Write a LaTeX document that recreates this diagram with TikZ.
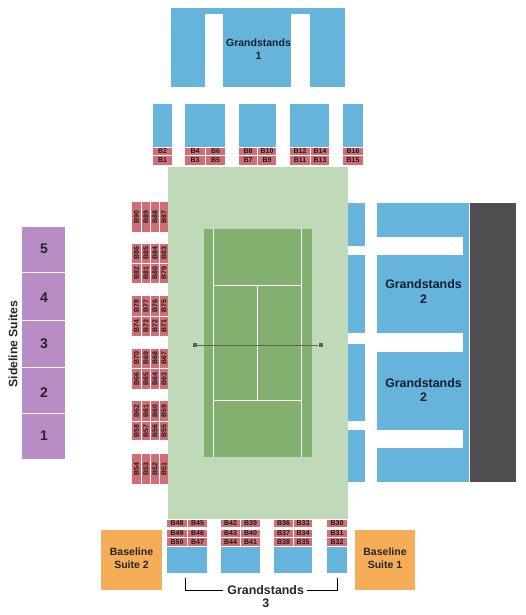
\documentclass[tikz,border=0pt]{standalone}
\usepackage{fontspec}
\setmainfont{Liberation Sans}
\usetikzlibrary{positioning}
\definecolor{colorStand}{HTML}{66B3DC}
\definecolor{colorSeat}{HTML}{D16D75}
\definecolor{colorApron}{HTML}{C0D9B8}
\definecolor{colorCourt}{HTML}{83B06E}
\definecolor{colorSuite}{HTML}{B88CC4}
\definecolor{colorBase}{HTML}{F5AD58}
\definecolor{colorWall}{HTML}{4F4D50}
\definecolor{colorNet}{HTML}{56625C}
\definecolor{colorInk}{HTML}{10202E}
\def\colorStand{colorStand}
\def\colorSeat{colorSeat}
\def\colorWall{colorWall}
\tikzset{
  standlabel/.style={font=\bfseries\fontsize{10.5}{13}\selectfont,text=colorInk,align=center,inner sep=0pt},
  bigstand/.style={standlabel,font=\bfseries\fontsize{12.4}{14.5}\selectfont},
  baselabel/.style={font=\bfseries\fontsize{10.5}{13}\selectfont,text=black!85,align=center,inner sep=0pt},
  seatlabel/.style={font=\bfseries\fontsize{7}{7}\selectfont,text=black!90,inner sep=0pt},
  suitelabel/.style={font=\bfseries\fontsize{14}{14}\selectfont,text=black!85,inner sep=0pt},
  netpost/.style={fill=colorNet,minimum size=4pt,inner sep=0pt}
}

\begin{document}
\begin{tikzpicture}[x=1pt,y=-1pt]
\useasboundingbox (0,0) rectangle (525,615);

% Grandstands 1
\fill[\colorStand] (171,8) rectangle (345,87);
\fill[white] (205,14) rectangle (223,87);
\fill[white] (291,14) rectangle (310,87);
\node[standlabel] (gsOne) at (258.5,49) {Grandstands\\1};

% Blocs au-dessus des sieges
\foreach \xa/\xb in {153/172,185/225,239/276,290/329,343/363}
  \fill[\colorStand] (\xa,104) rectangle (\xb,147);

% Sieges du haut
\foreach \xa/\xb/\numa/\numb in {153/172/2/1,185/205/4/3,206/225/6/5,239/257/8/7,258/276/10/9,
    290/310/12/11,311/329/14/13,343/363/16/15}{
  \fill[\colorSeat] (\xa,148) rectangle (\xb,155);
  \fill[\colorSeat] (\xa,156) rectangle (\xb,165);
  \node[seatlabel] (b\numa) at ({(\xa+\xb)/2},151.5) {B\numa};
  \node[seatlabel] (b\numb) at ({(\xa+\xb)/2},160.5) {B\numb};
}

% Le terrain
\fill[colorApron] (168,167) rectangle (348,519);
\fill[colorCourt] (204,229) rectangle (312,457);
\draw[white,line width=0.9pt] (213.5,229) -- (213.5,457);
\draw[white,line width=0.9pt] (301.5,229) -- (301.5,457);
\draw[white,line width=0.9pt] (213.5,285) -- (301.5,285);
\draw[white,line width=0.9pt] (213.5,400) -- (301.5,400);
\draw[white,line width=0.9pt] (257.7,285) -- (257.7,400);

% Le filet
\node[netpost] (netLeft) at (194.5,345) {};
\node[netpost] (netRight) at (320.5,345) {};
\draw[colorNet,line width=0.9pt] (netLeft) -- (netRight);

% Sieges de gauche
\foreach \ya/\yb/\first in {202/232/90,244/263/86,264/283/82,296/316/78,317/336/74,
    349/368/70,369/389/66,401/421/62,422/440/58,454/484/54}{
  \foreach \xa/\xb [count=\i from 0] in {132/141,142/150,151/159,160/168}{
    \pgfmathtruncatemacro{\num}{\first-\i}
    \fill[\colorSeat] (\xa,\ya) rectangle (\xb,\yb);
    \node[seatlabel,rotate=90] (b\num) at ({(\xa+\xb)/2},{(\ya+\yb)/2}) {B\num};
  }
}

% Sieges du bas
\foreach \xa/\xb/\numa/\numb/\numc in {167/187/48/49/50,188/207/45/46/47,221/240/42/43/44,241/260/39/40/41,
    274/293/36/37/38,294/312/33/34/35,327/347/30/31/32}{
  \fill[\colorSeat] (\xa,520) rectangle (\xb,527);
  \fill[\colorSeat] (\xa,530) rectangle (\xb,537);
  \fill[\colorSeat] (\xa,538) rectangle (\xb,546);
  \node[seatlabel] (b\numa) at ({(\xa+\xb)/2},523.5) {B\numa};
  \node[seatlabel] (b\numb) at ({(\xa+\xb)/2},533.5) {B\numb};
  \node[seatlabel] (b\numc) at ({(\xa+\xb)/2},542) {B\numc};
}

% Grandstands 3
\foreach \xa/\xb in {167/207,221/260,274/312,327/347}
  \fill[\colorStand] (\xa,547) rectangle (\xb,573);
\node[bigstand,text=black!85] (gsThree) at (265.7,590) {Grandstands};
\node[bigstand,text=black!85] (gsThreeNum) at (265.7,603.5) {3};
\coordinate (brLeft) at (185,578);
\coordinate (brRight) at (337,578);
\draw[black,line width=0.8pt] (brLeft) |- ([xshift=-4pt]gsThree.west);
\draw[black,line width=0.8pt] (brRight) |- ([xshift=3pt]gsThree.east);

% Baseline suites
\fill[colorBase] (101,530) rectangle (162,590);
\fill[colorBase] (355,530) rectangle (415,590);
\node[baselabel] (baseTwo) at (131.5,558) {Baseline\\Suite 2};
\node[baselabel] (baseOne) at (385,558) {Baseline\\Suite 1};

% Grandstands 2
\foreach \ya/\yb in {203/246,255/333,344/421,430/482}
  \fill[\colorStand] (348,\ya) rectangle (365,\yb);
\fill[\colorStand] (377,203) rectangle (469,482);
\foreach \ya/\yb in {237/255,333/352,430/448}
  \fill[white] (377,\ya) rectangle (463,\yb);
\fill[\colorWall] (470,203) rectangle (516,482);
\node[bigstand] (gsTwoA) at (423.5,291.5) {Grandstands\\2};
\node[bigstand] (gsTwoB) at (423.5,390) {Grandstands\\2};

% Sideline suites
\foreach \ya/\yb/\cy/\lab in {227/272/249/5,273/320/298/4,321/367/344/3,368/413/393/2,414/459/436/1}{
  \fill[colorSuite] (22,\ya) rectangle (65,\yb);
  \node[suitelabel] (suite\lab) at (44,\cy) {\lab};
}
\node[rotate=90,inner sep=0pt,text=black!85,font=\bfseries\fontsize{12.2}{12}\selectfont] (sideSuites) at (13,344) {Sideline Suites};

\end{tikzpicture}
\end{document}
